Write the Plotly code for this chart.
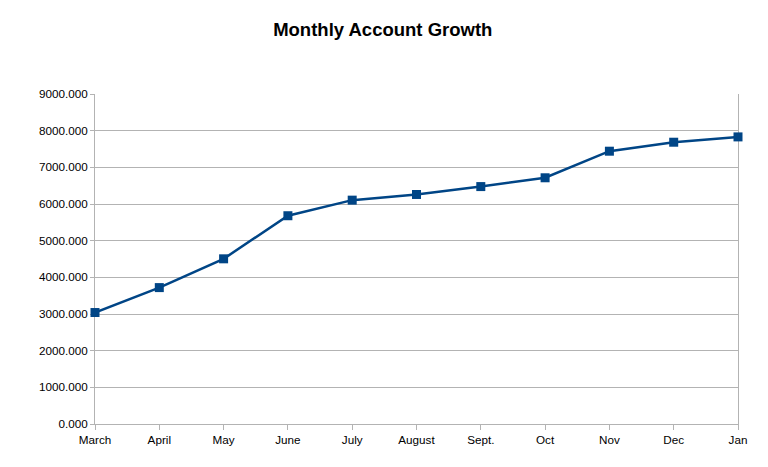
import plotly.graph_objects as go

months = ["March", "April", "May", "June", "July", "August", "Sept.", "Oct", "Nov", "Dec", "Jan"]
accounts = [3040, 3720, 4505, 5680, 6105, 6260, 6475, 6715, 7440, 7685, 7830]
y_ticks = [0, 1000, 2000, 3000, 4000, 5000, 6000, 7000, 8000, 9000]

fig = go.Figure(
    go.Scatter(
        x=months,
        y=accounts,
        mode="lines+markers",
        line=dict(color="#004586", width=2.5),
        marker=dict(symbol="square", size=9, color="#004586"),
        cliponaxis=False,
    )
)

grid = "#b3b3b3"
fig.update_layout(
    width=768,
    height=467,
    paper_bgcolor="white",
    plot_bgcolor="white",
    showlegend=False,
    font=dict(family="Liberation Sans, Arial, sans-serif", size=11.7, color="#000000"),
    title=dict(
        text="<b>Monthly Account Growth</b>",
        x=0.488,
        xanchor="center",
        y=0.953,
        yanchor="middle",
        font=dict(size=18.5, color="#000000"),
    ),
    margin=dict(l=87, r=38, t=86, b=51),
    xaxis=dict(
        type="category",
        range=[0, len(months) - 1],
        showgrid=False,
        showline=True,
        linecolor=grid,
        linewidth=1,
        ticks="outside",
        ticklen=5,
        tickcolor=grid,
        layer="below traces",
    ),
    yaxis=dict(
        range=[0, 9000],
        tickvals=y_ticks,
        tickformat=".3f",
        showgrid=True,
        gridcolor=grid,
        gridwidth=1,
        showline=True,
        mirror=True,
        linecolor=grid,
        linewidth=1,
        ticks="outside",
        ticklen=4,
        tickcolor=grid,
        zeroline=False,
        layer="below traces",
    ),
)

fig.write_html("out.html")
